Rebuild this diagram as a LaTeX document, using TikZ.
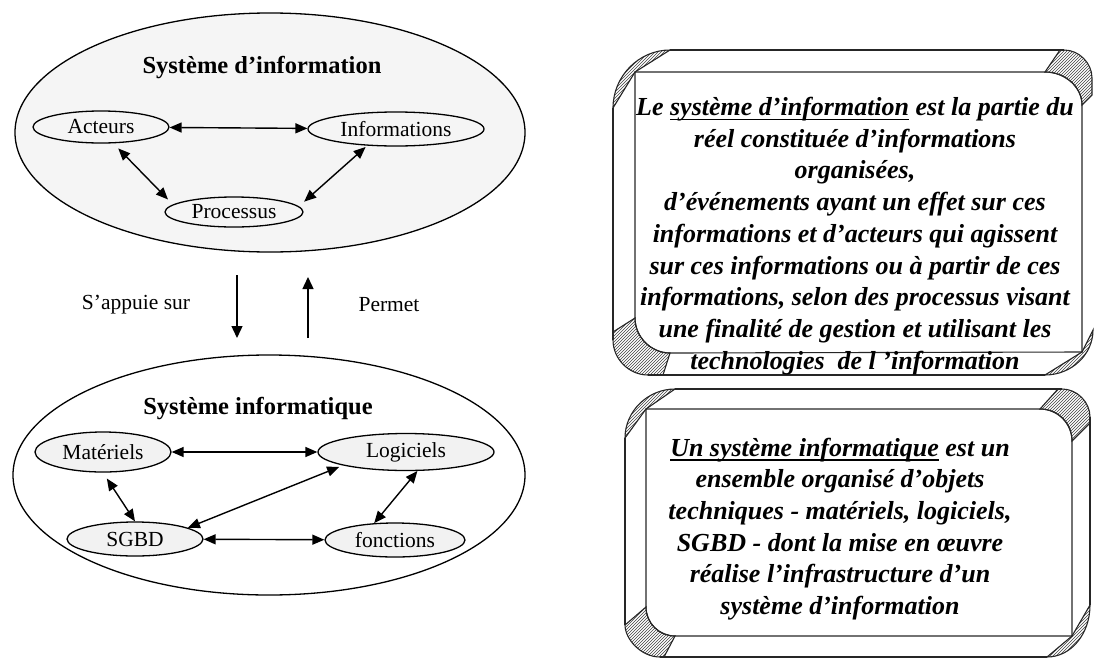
\documentclass[tikz,border=0pt]{standalone}
\usepackage{fontspec}
\setmainfont{Liberation Serif}
\usetikzlibrary{arrows.meta,shapes.geometric,patterns}
% soulignement simple sous la ligne de base
\newsavebox{\ulbox}
\newcommand{\souligne}[1]{\sbox{\ulbox}{#1}\rlap{\rule[-4.5pt]{\wd\ulbox}{1.3pt}}\usebox{\ulbox}}

\begin{document}
\begin{tikzpicture}[x=1pt,y=-1pt,
  lbl/.style={font=\fontsize{21.5}{24}\selectfont},
  ttl/.style={font=\fontsize{24.5}{28}\selectfont\bfseries},
  bigell/.style={ellipse, draw, line width=1.3pt, inner sep=0pt},
  smell/.style={ellipse, draw, line width=1.3pt, inner sep=0pt, lbl},
  dbl/.style={{Triangle[length=12pt,width=10pt]}-{Triangle[length=12pt,width=10pt]}, line width=1.4pt},
  sgl/.style={-{Triangle[length=12pt,width=11pt]}, line width=1.4pt},
  frame/.style={line width=1.1pt, draw=black!85},
  hatch/.style={pattern=north east lines, pattern color=black!75},
  para/.style={align=center, font=\fontsize{26}{31.7}\selectfont\bfseries\itshape, inner sep=0pt},
]
\useasboundingbox (0,0) rectangle (1097,659);

% ---------- Système d'information ----------
\node[bigell, minimum width=510pt, minimum height=239pt, fill=black!4] (si) at (270,132.5) {};
\node[ttl] (sititle) at (262,68) {Système d’information};
\node[smell, minimum width=136pt, minimum height=32pt] (act) at (101,127) {Acteurs};
\node[smell, minimum width=176pt, minimum height=34pt] (inf) at (396,129) {Informations};
\node[smell, minimum width=138pt, minimum height=30pt] (pro) at (234,212) {Processus};

\draw[dbl] (act) -- (inf);
\draw[dbl, shorten <=7pt, shorten >=7pt] (act.-53) -- (pro.173);
\draw[dbl, shorten <=2pt, shorten >=7pt] (inf.-150) -- (pro.5);

% ---------- liens entre les deux systèmes ----------
\coordinate (dnA) at (237,275);
\coordinate (dnB) at (237,338);
\coordinate (upA) at (308,338);
\coordinate (upB) at (308,277);
\draw[sgl] (dnA) -- (dnB);
\draw[sgl] (upA) -- (upB);
\node[lbl] (appui) at (136,305) {S’appuie sur};
\node[lbl] (permet) at (389,305) {Permet};

% ---------- Système informatique ----------
\node[bigell, minimum width=512pt, minimum height=240pt] (sq) at (269,475) {};
\node[ttl] (sqtitle) at (258,409) {Système informatique};
\node[smell, minimum width=136pt, minimum height=40pt, fill=black!5] (mat) at (103,452) {Matériels};
\node[smell, minimum width=176pt, minimum height=37pt, fill=black!5] (log) at (406,452) {Logiciels};
\node[smell, minimum width=136pt, minimum height=34pt, fill=black!5] (sgbd) at (135,539) {SGBD};
\node[smell, minimum width=140pt, minimum height=34pt, fill=black!5] (fon) at (395,540) {fonctions};

\draw[dbl] (mat) -- (log);
\draw[dbl, shorten <=7pt] (mat.south) -- (sgbd.north);
\draw[dbl, shorten >=4pt] (sgbd.12) -- (log.192);
\draw[dbl] (log.-59) -- (fon.141);
\draw[dbl] (sgbd) -- (fon);

% ---------- cadre biseauté 1 ----------
% coins hachurés
\draw[frame, hatch] (613,108) .. controls (613,76) and (639,50) .. (670,50) -- (635,72) -- cycle;
\draw[frame, hatch] (1045,72) -- (1060,50) -- (1064,50) .. controls (1079,50) and (1092,63) .. (1092,78)
  -- (1092,95) -- (1082,105) .. controls (1082,87) and (1065,72) .. (1045,72) -- cycle;
\draw[frame, hatch] (1093,330) .. controls (1093,355) and (1071,375) .. (1045,375) -- (1082,352) -- cycle;
\draw[frame, hatch] (613,332) -- (635,318) .. controls (635,337) and (651,353) .. (670,353) -- (663,375)
  -- (648,375) .. controls (629,375) and (613,359) .. (613,340) -- cycle;
% contour extérieur
\draw[frame] (670,50) -- (1064,50);
\draw[frame] (1045,375) -- (648,375);
\draw[frame] (613,340) -- (613,108);
% contour intérieur
\draw[frame] (635,72) -- (1045,72) .. controls (1065,72) and (1082,87) .. (1082,105) -- (1082,352)
  -- (670,353) .. controls (651,353) and (635,337) .. (635,318) -- cycle;

\node[para] (defsi) at (855,236) {Le \souligne{système d’information} est la partie du\\
  réel constituée d’informations\\
  organisées,\\
  d’événements ayant un effet sur ces\\
  informations et d’acteurs qui agissent\\
  sur ces informations ou à partir de ces\\
  informations, selon des processus visant\\
  une finalité de gestion et utilisant les\\
  technologies\ \ de l ’information};

% ---------- cadre biseauté 2 ----------
\draw[frame, hatch] (625,438) .. controls (625,411) and (648,389) .. (675,389) -- (646,409) -- cycle;
\draw[frame, hatch] (1040,409) -- (1058,389) -- (1062,389) .. controls (1077,389) and (1090,402) .. (1090,417)
  -- (1090,423) -- (1072,441) .. controls (1072,423) and (1058,409) .. (1040,409) -- cycle;
\draw[frame, hatch] (1090,605) .. controls (1090,634) and (1071,657) .. (1047,657) -- (1072,636) -- cycle;
\draw[frame, hatch] (625,625) -- (646,607) .. controls (646,623) and (659,636) .. (675,636) -- (664,657)
  -- (660,657) .. controls (641,657) and (625,639) .. (625,625) -- cycle;
\draw[frame] (675,389) -- (1062,389);
\draw[frame] (1090,417) -- (1090,605);
\draw[frame] (1047,657) -- (660,657);
\draw[frame] (625,625) -- (625,438);
\draw[frame] (646,409) -- (1040,409) .. controls (1058,409) and (1072,424) .. (1072,441) -- (1072,636)
  -- (675,636) .. controls (659,636) and (646,623) .. (646,607) -- cycle;

\node[para] (defsq) at (840,529) {\souligne{Un système informatique} est un\\
  ensemble organisé d’objets\\
  techniques - matériels, logiciels,\\
  SGBD - dont la mise en œuvre\\
  réalise l’infrastructure d’un\\
  système d’information};
\end{tikzpicture}
\end{document}
